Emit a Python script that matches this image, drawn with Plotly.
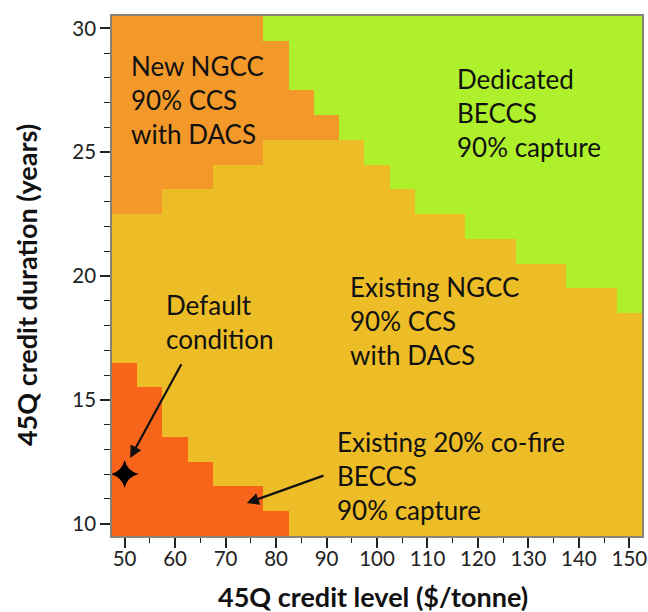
import plotly.graph_objects as go

# ---- data ----
credit_levels = list(range(50, 155, 5))          # x: $/tonne
durations = list(range(10, 31))                  # y: years

# per-duration (y = 10..30) region boundaries
green_start = [None] * 9 + [150, 140, 130, 120, 110, 105, 100, 95, 90, 85, 85, 80]   # Dedicated BECCS: x >= value
orange_end = [None] * 13 + [55, 65, 75, 90, 85, 80, 80, 75]                          # New NGCC: x <= value
red_end = [80, 75, 65, 60, 55, 55, 50] + [None] * 14                                 # Existing 20% co-fire: x <= value

region_names = ["Existing 20% co-fire BECCS", "Existing NGCC 90% CCS with DACS",
                "New NGCC 90% CCS with DACS", "Dedicated BECCS 90% capture"]
region_colors = ["#F7641A", "#EDBD28", "#F2992A", "#AFF02C"]

default_x = [50]
default_y = [12]

x_ticks = list(range(50, 160, 10))
y_ticks = [10, 15, 20, 25, 30]

# build region code matrix
z = []
for i, y in enumerate(durations):
    row = []
    for x in credit_levels:
        code = 1
        if green_start[i] is not None and x >= green_start[i]:
            code = 3
        elif orange_end[i] is not None and x <= orange_end[i]:
            code = 2
        elif red_end[i] is not None and x <= red_end[i]:
            code = 0
        row.append(code)
    z.append(row)

n = len(region_colors)
colorscale = []
for k, c in enumerate(region_colors):
    colorscale.append([k / n, c])
    colorscale.append([(k + 1) / n, c])

fig = go.Figure()
fig.add_trace(go.Heatmap(
    x=credit_levels, y=durations, z=z,
    zmin=-0.5, zmax=n - 0.5,
    colorscale=colorscale, showscale=False, hoverinfo="skip",
))
fig.add_trace(go.Scatter(
    x=default_x, y=default_y, mode="markers",
    marker=dict(symbol="star-diamond", size=20, color="black"),
    showlegend=False, hoverinfo="skip",
))

FONT = "Lato"
text_font = dict(family=FONT, size=26, color="#111111")

labels = [
    ("New NGCC<br>90% CCS<br>with DACS", 51.3, 27.1),
    ("Dedicated<br>BECCS<br>90% capture", 115.8, 26.6),
    ("Default<br>condition", 58.2, 18.14),
    ("Existing NGCC<br>90% CCS<br>with DACS", 94.6, 18.18),
    ("Existing 20% co-fire<br>BECCS<br>90% capture", 92.0, 11.92),
]
annotations = []
for txt, ax_, ay_ in labels:
    annotations.append(dict(x=ax_, y=ay_, xref="x", yref="y", text=txt, showarrow=False,
                            xanchor="left", yanchor="middle", align="left", font=text_font,
                            xshift=-2))

arrows = [
    ((61.4, 16.5), (51.1, 12.65)),
    ((89.7, 11.96), (74.2, 10.83)),
]
for (tx, ty), (hx, hy) in arrows:
    annotations.append(dict(x=hx, y=hy, ax=tx, ay=ty, xref="x", yref="y", axref="x", ayref="y",
                            text="", showarrow=True, arrowhead=2, arrowsize=1.1,
                            arrowwidth=2.2, arrowcolor="#111111"))

# axis titles
title_font = dict(family=FONT, size=27, color="#111111")
annotations.append(dict(text="<b>45Q credit level ($/tonne)</b>", xref="paper", yref="paper",
                        x=0.4925, y=-0.117, xanchor="center", yanchor="middle",
                        showarrow=False, font=title_font))
annotations.append(dict(text="<b>45Q credit duration (years)</b>", xref="paper", yref="paper",
                        x=-0.160, y=0.483, xanchor="center", yanchor="middle", textangle=-90,
                        showarrow=False, font=title_font))

fig.update_layout(
    width=648, height=612,
    margin=dict(l=112, r=6, t=16, b=76),
    paper_bgcolor="white", plot_bgcolor="white",
    font=dict(family=FONT, size=20.5, color="#222222"),
    annotations=annotations,
    showlegend=False,
)
fig.update_xaxes(
    range=[47.5, 152.5], tickvals=x_ticks, ticks="outside", ticklen=10, tickwidth=1.5,
    tickcolor="#222222", showgrid=False, zeroline=False, automargin=False,
    ticklabeloverflow="allow", ticklabelstandoff=-6,
    showline=True, mirror=True, linecolor="#8a8274", linewidth=1.5,
    minor=dict(dtick=5, tick0=50, ticks="outside", ticklen=5, tickwidth=1.2, tickcolor="#222222", showgrid=False),
)
fig.update_yaxes(
    range=[9.5, 30.5], tickvals=y_ticks, ticks="outside", ticklen=10, tickwidth=1.5,
    tickcolor="#222222", showgrid=False, zeroline=False, automargin=False,
    ticklabeloverflow="allow",
    showline=True, mirror=True, linecolor="#8a8274", linewidth=1.5,
    minor=dict(dtick=1, tick0=10, ticks="outside", ticklen=6, tickwidth=1.2, tickcolor="#222222", showgrid=False),
)

fig.write_html("out.html", config={"displayModeBar": False},
               post_script="document.body.style.margin='0px';document.body.style.overflow='hidden';")
